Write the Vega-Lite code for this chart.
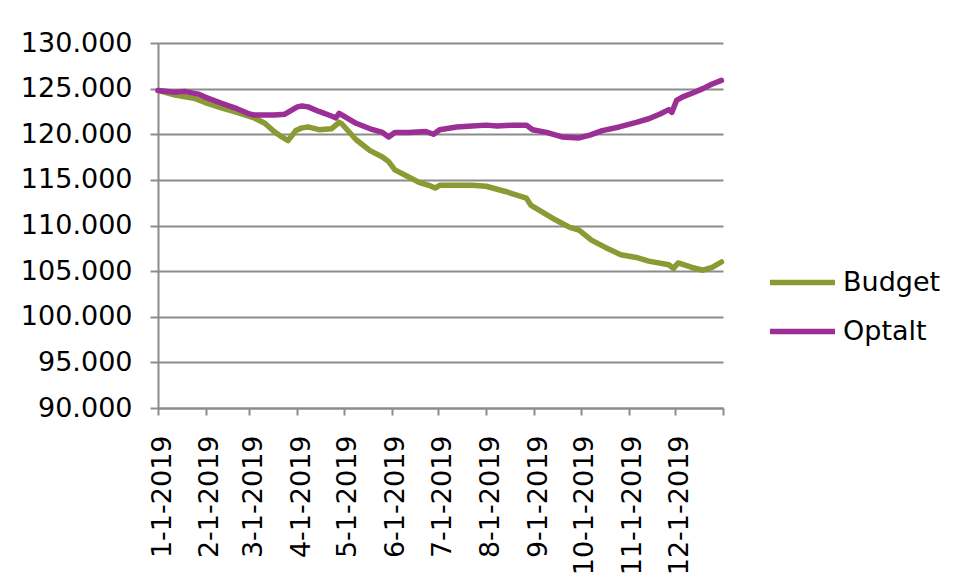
{
  "$schema": "https://vega.github.io/schema/vega-lite/v6.json",
  "width": 565,
  "height": 365,
  "autosize": {"type": "none"},
  "padding": {"left": 158, "top": 43, "right": 234, "bottom": 171},
  "background": "white",
  "config": {"view": {"stroke": null}, "font": "DejaVu Sans"},
  "data": {"values": [
    {"date": "2019-01-01", "series": "Budget", "value": 124800},
    {"date": "2019-01-12", "series": "Budget", "value": 124300},
    {"date": "2019-01-25", "series": "Budget", "value": 123900},
    {"date": "2019-01-31", "series": "Budget", "value": 123500},
    {"date": "2019-02-11", "series": "Budget", "value": 122900},
    {"date": "2019-02-21", "series": "Budget", "value": 122400},
    {"date": "2019-03-04", "series": "Budget", "value": 121800},
    {"date": "2019-03-11", "series": "Budget", "value": 121200},
    {"date": "2019-03-17", "series": "Budget", "value": 120300},
    {"date": "2019-03-22", "series": "Budget", "value": 119700},
    {"date": "2019-03-26", "series": "Budget", "value": 119300},
    {"date": "2019-03-31", "series": "Budget", "value": 120400},
    {"date": "2019-04-04", "series": "Budget", "value": 120700},
    {"date": "2019-04-08", "series": "Budget", "value": 120800},
    {"date": "2019-04-15", "series": "Budget", "value": 120500},
    {"date": "2019-04-23", "series": "Budget", "value": 120600},
    {"date": "2019-04-28", "series": "Budget", "value": 121300},
    {"date": "2019-04-30", "series": "Budget", "value": 121100},
    {"date": "2019-05-09", "series": "Budget", "value": 119400},
    {"date": "2019-05-18", "series": "Budget", "value": 118200},
    {"date": "2019-05-26", "series": "Budget", "value": 117500},
    {"date": "2019-05-30", "series": "Budget", "value": 117000},
    {"date": "2019-06-03", "series": "Budget", "value": 116100},
    {"date": "2019-06-11", "series": "Budget", "value": 115400},
    {"date": "2019-06-19", "series": "Budget", "value": 114700},
    {"date": "2019-06-25", "series": "Budget", "value": 114400},
    {"date": "2019-06-29", "series": "Budget", "value": 114100},
    {"date": "2019-07-02", "series": "Budget", "value": 114400},
    {"date": "2019-07-13", "series": "Budget", "value": 114400},
    {"date": "2019-07-23", "series": "Budget", "value": 114400},
    {"date": "2019-08-01", "series": "Budget", "value": 114300},
    {"date": "2019-08-14", "series": "Budget", "value": 113700},
    {"date": "2019-08-27", "series": "Budget", "value": 113000},
    {"date": "2019-08-30", "series": "Budget", "value": 112200},
    {"date": "2019-09-02", "series": "Budget", "value": 111900},
    {"date": "2019-09-15", "series": "Budget", "value": 110600},
    {"date": "2019-09-24", "series": "Budget", "value": 109800},
    {"date": "2019-09-30", "series": "Budget", "value": 109500},
    {"date": "2019-10-08", "series": "Budget", "value": 108400},
    {"date": "2019-10-17", "series": "Budget", "value": 107600},
    {"date": "2019-10-27", "series": "Budget", "value": 106800},
    {"date": "2019-11-06", "series": "Budget", "value": 106500},
    {"date": "2019-11-14", "series": "Budget", "value": 106100},
    {"date": "2019-11-27", "series": "Budget", "value": 105700},
    {"date": "2019-11-30", "series": "Budget", "value": 105300},
    {"date": "2019-12-03", "series": "Budget", "value": 105900},
    {"date": "2019-12-12", "series": "Budget", "value": 105400},
    {"date": "2019-12-19", "series": "Budget", "value": 105100},
    {"date": "2019-12-25", "series": "Budget", "value": 105400},
    {"date": "2019-12-31", "series": "Budget", "value": 106000},
    {"date": "2019-01-01", "series": "Optalt", "value": 124800},
    {"date": "2019-01-12", "series": "Optalt", "value": 124600},
    {"date": "2019-01-18", "series": "Optalt", "value": 124700},
    {"date": "2019-01-27", "series": "Optalt", "value": 124400},
    {"date": "2019-01-31", "series": "Optalt", "value": 124100},
    {"date": "2019-02-11", "series": "Optalt", "value": 123400},
    {"date": "2019-02-21", "series": "Optalt", "value": 122800},
    {"date": "2019-02-28", "series": "Optalt", "value": 122300},
    {"date": "2019-03-04", "series": "Optalt", "value": 122100},
    {"date": "2019-03-17", "series": "Optalt", "value": 122100},
    {"date": "2019-03-24", "series": "Optalt", "value": 122200},
    {"date": "2019-03-27", "series": "Optalt", "value": 122500},
    {"date": "2019-04-01", "series": "Optalt", "value": 123000},
    {"date": "2019-04-04", "series": "Optalt", "value": 123100},
    {"date": "2019-04-08", "series": "Optalt", "value": 123000},
    {"date": "2019-04-15", "series": "Optalt", "value": 122500},
    {"date": "2019-04-23", "series": "Optalt", "value": 122000},
    {"date": "2019-04-26", "series": "Optalt", "value": 121800},
    {"date": "2019-04-28", "series": "Optalt", "value": 122300},
    {"date": "2019-04-30", "series": "Optalt", "value": 122100},
    {"date": "2019-05-09", "series": "Optalt", "value": 121200},
    {"date": "2019-05-18", "series": "Optalt", "value": 120600},
    {"date": "2019-05-26", "series": "Optalt", "value": 120200},
    {"date": "2019-05-30", "series": "Optalt", "value": 119700},
    {"date": "2019-06-03", "series": "Optalt", "value": 120200},
    {"date": "2019-06-12", "series": "Optalt", "value": 120200},
    {"date": "2019-06-23", "series": "Optalt", "value": 120300},
    {"date": "2019-06-28", "series": "Optalt", "value": 120000},
    {"date": "2019-07-02", "series": "Optalt", "value": 120500},
    {"date": "2019-07-13", "series": "Optalt", "value": 120800},
    {"date": "2019-07-23", "series": "Optalt", "value": 120900},
    {"date": "2019-08-01", "series": "Optalt", "value": 121000},
    {"date": "2019-08-08", "series": "Optalt", "value": 120900},
    {"date": "2019-08-18", "series": "Optalt", "value": 121000},
    {"date": "2019-08-27", "series": "Optalt", "value": 121000},
    {"date": "2019-08-31", "series": "Optalt", "value": 120500},
    {"date": "2019-09-09", "series": "Optalt", "value": 120200},
    {"date": "2019-09-19", "series": "Optalt", "value": 119700},
    {"date": "2019-09-30", "series": "Optalt", "value": 119600},
    {"date": "2019-10-07", "series": "Optalt", "value": 119900},
    {"date": "2019-10-15", "series": "Optalt", "value": 120400},
    {"date": "2019-10-26", "series": "Optalt", "value": 120800},
    {"date": "2019-11-06", "series": "Optalt", "value": 121300},
    {"date": "2019-11-14", "series": "Optalt", "value": 121700},
    {"date": "2019-11-21", "series": "Optalt", "value": 122200},
    {"date": "2019-11-27", "series": "Optalt", "value": 122700},
    {"date": "2019-11-29", "series": "Optalt", "value": 122400},
    {"date": "2019-12-02", "series": "Optalt", "value": 123700},
    {"date": "2019-12-06", "series": "Optalt", "value": 124100},
    {"date": "2019-12-12", "series": "Optalt", "value": 124500},
    {"date": "2019-12-19", "series": "Optalt", "value": 125000},
    {"date": "2019-12-25", "series": "Optalt", "value": 125500},
    {"date": "2019-12-31", "series": "Optalt", "value": 125900}
  ]},
  "mark": {"type": "line", "strokeWidth": 5.5, "strokeCap": "round", "strokeJoin": "round"},
  "encoding": {
    "x": {
      "field": "date",
      "type": "temporal",
      "scale": {"type": "utc", "domain": [{"year": 2019, "month": 1, "date": 1, "utc": true}, {"year": 2020, "month": 1, "date": 1, "utc": true}]},
      "axis": {
        "title": null,
        "values": [
          {"year": 2019, "month": 1, "date": 1, "utc": true},
          {"year": 2019, "month": 2, "date": 1, "utc": true},
          {"year": 2019, "month": 3, "date": 1, "utc": true},
          {"year": 2019, "month": 4, "date": 1, "utc": true},
          {"year": 2019, "month": 5, "date": 1, "utc": true},
          {"year": 2019, "month": 6, "date": 1, "utc": true},
          {"year": 2019, "month": 7, "date": 1, "utc": true},
          {"year": 2019, "month": 8, "date": 1, "utc": true},
          {"year": 2019, "month": 9, "date": 1, "utc": true},
          {"year": 2019, "month": 10, "date": 1, "utc": true},
          {"year": 2019, "month": 11, "date": 1, "utc": true},
          {"year": 2019, "month": 12, "date": 1, "utc": true},
          {"year": 2020, "month": 1, "date": 1, "utc": true}
        ],
        "labelExpr": "utcyear(datum.value) == 2020 ? '' : utcFormat(datum.value, '%-m-%-d-%Y')",
        "labelAngle": -90,
        "labelAlign": "right",
        "labelBaseline": "middle",
        "labelFontSize": 27,
        "labelColor": "black",
        "labelPadding": 20,
        "labelOffset": 4,
        "labelFlush": false,
        "labelOverlap": false,
        "labelBound": false,
        "tickSize": 7,
        "tickColor": "#8c8c8c",
        "tickWidth": 2,
        "domainColor": "#8c8c8c",
        "domainWidth": 2,
        "grid": false
      }
    },
    "y": {
      "field": "value",
      "type": "quantitative",
      "scale": {"domain": [90000, 130000], "zero": false, "nice": false},
      "axis": {
        "title": null,
        "values": [90000, 95000, 100000, 105000, 110000, 115000, 120000, 125000, 130000],
        "labelExpr": "replace(format(datum.value, ','), ',', '.')",
        "labelFontSize": 27,
        "labelColor": "black",
        "labelPadding": 18,
        "tickSize": 8,
        "tickColor": "#8c8c8c",
        "tickWidth": 2,
        "domainColor": "#8c8c8c",
        "domainWidth": 2,
        "gridColor": "#8c8c8c",
        "gridWidth": 2,
        "gridOpacity": 1
      }
    },
    "color": {
      "field": "series",
      "type": "nominal",
      "scale": {"domain": ["Budget", "Optalt"], "range": ["#8C9A34", "#9B2F95"]},
      "legend": {
        "title": null,
        "orient": "none",
        "legendX": 609,
        "legendY": 204,
        "symbolType": "stroke",
        "symbolStrokeWidth": 5.5,
        "symbolSize": 4225,
        "labelFontSize": 27,
        "labelColor": "black",
        "labelOffset": 5,
        "rowPadding": 0,
        "padding": 0
      }
    }
  }
}
